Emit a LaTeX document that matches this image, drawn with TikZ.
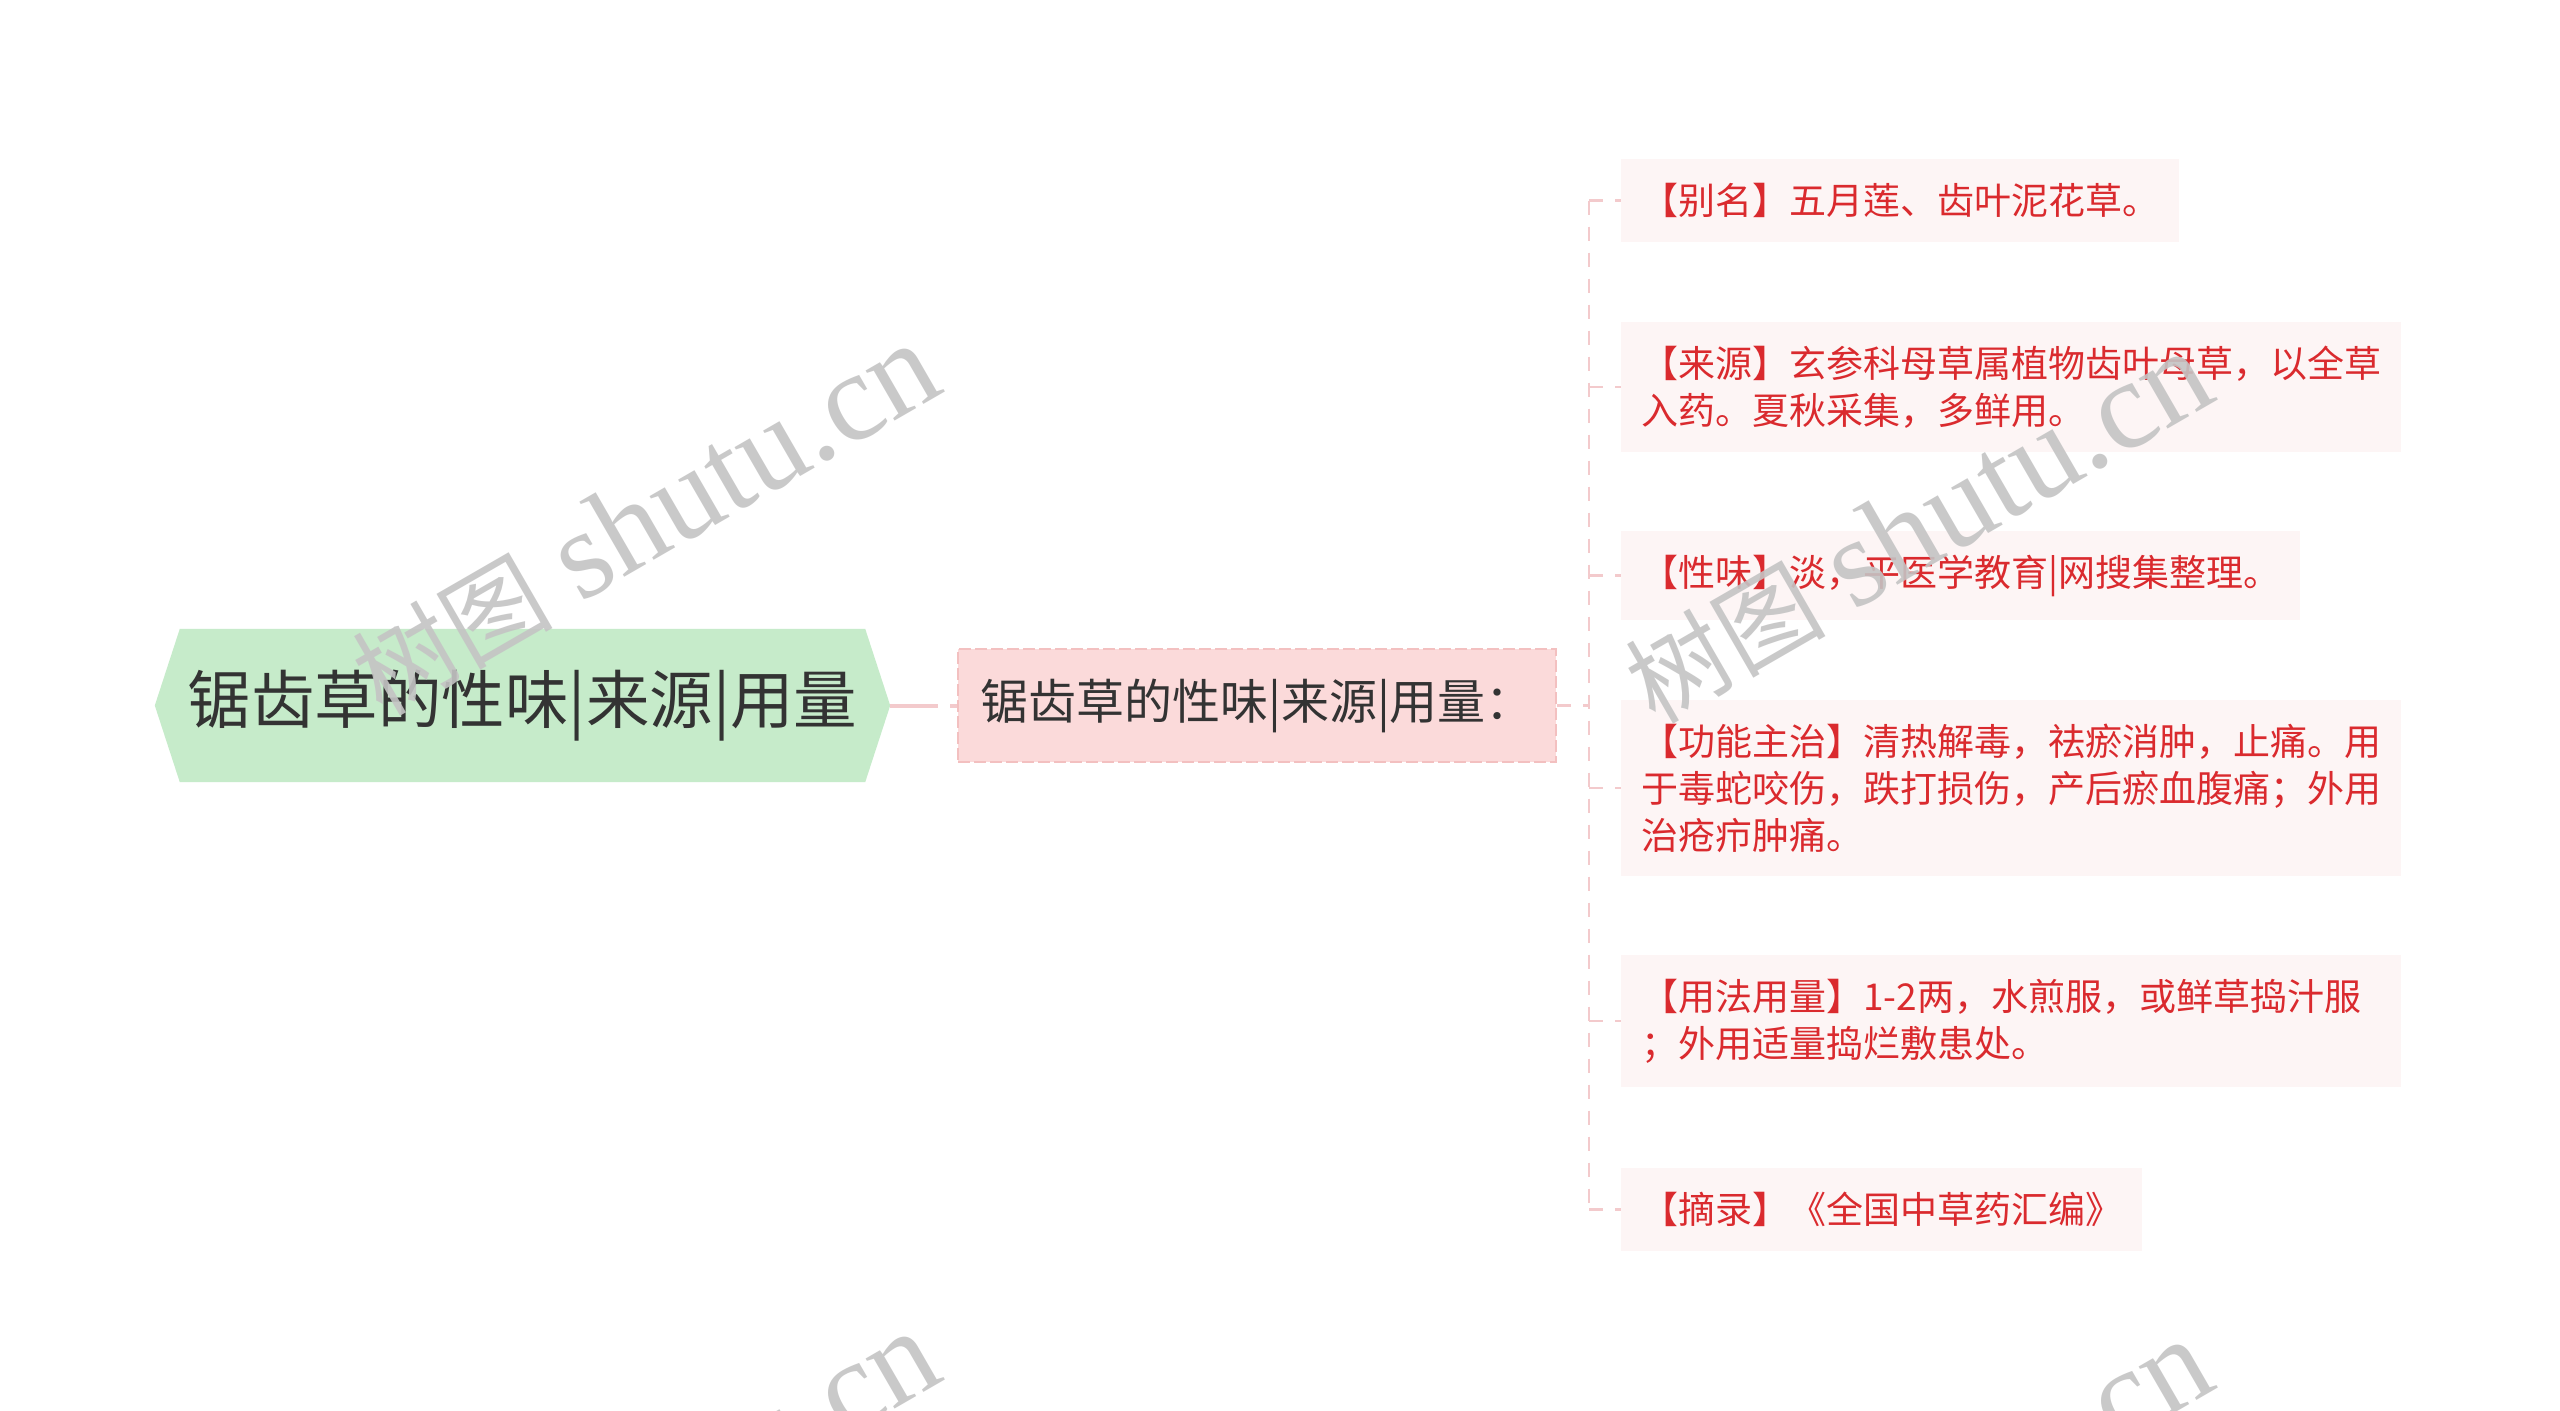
\documentclass[tikz,border=0pt]{standalone}
\usepackage{fontspec}
\setmainfont{Noto Sans CJK SC}
\newfontfamily\wmlat{Liberation Serif}
\usetikzlibrary{backgrounds}
\definecolor{rootfill}{HTML}{C6EBCA}
\definecolor{midfill}{HTML}{FBDADA}
\definecolor{midline}{HTML}{F3C0C0}
\definecolor{leaffill}{HTML}{FDF5F5}
\definecolor{leaftext}{HTML}{DA2A2E}
\definecolor{linkc}{HTML}{F3CACC}
\definecolor{darktext}{HTML}{333333}
\definecolor{wmcol}{HTML}{C4C4C4}
\begin{document}
\begin{tikzpicture}[x=1pt,y=-1pt,
  rootbox/.style={minimum width=685pt, minimum height=153pt, inner sep=0pt,
    text=darktext, font=\fontsize{63.5}{70}\selectfont},
  midbox/.style={fill=midfill, draw=midline, line width=2pt, dash pattern=on 12pt off 4pt,
    minimum width=598pt, minimum height=113pt, inner sep=0pt,
    text=darktext, font=\fontsize{48}{56}\selectfont},
  leaf/.style={anchor=west, fill=leaffill, text=leaftext, align=left,
    inner xsep=20pt, inner ysep=24pt, font=\fontsize{37}{47}\selectfont},
  wide/.style={text width=740pt},
  link/.style={draw=linkc, line width=2.5pt, dash pattern=on 14pt off 12pt},
  rootlink/.style={draw=linkc, line width=4pt, dash pattern=on 48pt off 12pt},
  wmark/.style={rotate=30, text=wmcol, text opacity=0.9, inner sep=0pt,
    font=\fontsize{126}{126}\selectfont}
]
\useasboundingbox (0,0) rectangle (2560,1411);

% central topic
\node[rootbox] (root) at (522.5,705.5) {锯齿草的性味|来源|用量};
\begin{scope}[on background layer]
  \fill[white] (0,0) rectangle (2560,1411);
  \fill[rootfill] (root.north west) -- (root.north east) -- ([xshift=25pt]root.east)
    -- (root.south east) -- (root.south west) -- ([xshift=-25pt]root.west) -- cycle;
\end{scope}
\coordinate (rtip) at ([xshift=25pt]root.east);

% main branch
\node[midbox] (mid) at (1257,705.5) {锯齿草的性味|来源|用量：};

% leaves
\node[leaf] (l1) at (1621,200.5) {【别名】五月莲、齿叶泥花草。};
\node[leaf,wide] (l2) at (1621,387) {【来源】玄参科母草属植物齿叶母草，以全草\\入药。夏秋采集，多鲜用。};
\node[leaf] (l3) at (1621,575.5) {【性味】淡，平医学教育|网搜集整理。};
\node[leaf,wide] (l4) at (1621,788) {【功能主治】清热解毒，祛瘀消肿，止痛。用\\于毒蛇咬伤，跌打损伤，产后瘀血腹痛；外用\\治疮疖肿痛。};
\node[leaf,wide] (l5) at (1621,1021) {【用法用量】1-2两，水煎服，或鲜草捣汁服\\；外用适量捣烂敷患处。};
\node[leaf] (l6) at (1621,1209.5) {【摘录】《全国中草药汇编》};

% connectors
\draw[rootlink] (rtip) -- (mid.west);
\coordinate (tx) at (1589,0);
\draw[link] (mid.east) -- (mid.east -| tx);
\draw[link] (l1.west -| tx) -- (l6.west -| tx);
\foreach \n in {l1,l2,l3,l4,l5,l6}
  \draw[link] (\n.west -| tx) -- (\n.west);

% watermarks
\begin{scope}
  \clip (0,0) rectangle (2560,1411);
  \node[wmark] (w1) at (645,520) {{\fontsize{100}{100}\selectfont 树图} {\wmlat shutu.cn}};
  \node[wmark] (w2) at (1918,528) {{\fontsize{100}{100}\selectfont 树图} {\wmlat shutu.cn}};
  \node[wmark] (w3) at (645,1508) {{\fontsize{100}{100}\selectfont 树图} {\wmlat shutu.cn}};
  \node[wmark] (w4) at (1918,1516) {{\fontsize{100}{100}\selectfont 树图} {\wmlat shutu.cn}};
\end{scope}
\end{tikzpicture}
\end{document}
